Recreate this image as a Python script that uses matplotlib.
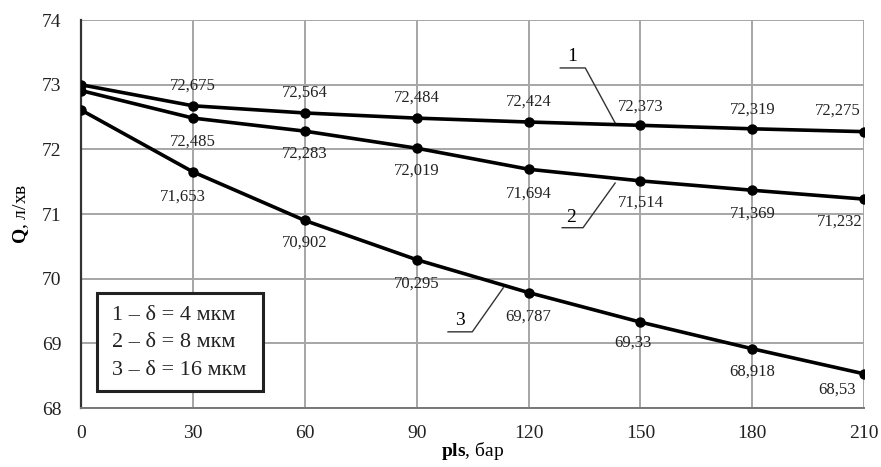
import matplotlib
matplotlib.use('Agg')
import matplotlib.pyplot as plt
from matplotlib.patches import Rectangle

plt.rcParams['font.family'] = ['Liberation Serif', 'DejaVu Serif']
plt.rcParams['mathtext.fontset'] = 'custom'
plt.rcParams['mathtext.rm'] = 'Liberation Serif'
plt.rcParams['mathtext.bf'] = 'Liberation Serif:bold'

# data
pressure = [0, 30, 60, 90, 120, 150, 180, 210]
q_4mkm = [73.0, 72.675, 72.564, 72.484, 72.424, 72.373, 72.319, 72.275]
q_8mkm = [72.91, 72.485, 72.283, 72.019, 71.694, 71.514, 71.369, 71.232]
q_16mkm = [72.61, 71.653, 70.902, 70.295, 69.787, 69.33, 68.918, 68.53]
legend_lines = ['1 – δ = 4 мкм', '2 – δ = 8 мкм', '3 – δ = 16 мкм']

# label offsets in pixels (dx, dy), one per point after x=0
off_1 = [(0, 20), (0, 20), (0, 20), (0, 20), (0, 19), (0, 19), (-27, 21)]
off_2 = [(0, -24), (0, -23), (0, -22), (0, -24), (0, -22), (0, -23), (-25, -23)]
off_3 = [(-10, -25), (0, -22), (0, -24), (0, -24), (-8, -21), (0, -23), (-27, -16)]

fig = plt.figure(figsize=(8.81, 4.67), dpi=100)
ax = fig.add_axes([0.092, 0.126, 0.889, 0.831])

for ys, offs in [(q_4mkm, off_1), (q_8mkm, off_2), (q_16mkm, off_3)]:
    ax.plot(pressure, ys, color='black', lw=2.6, marker='o', ms=6.5, zorder=3)
    for x, y, (dx, dy) in zip(pressure[1:], ys[1:], offs):
        lbl = ('%g' % y).replace('.', ',')
        ax.annotate(lbl, (x, y), xytext=(dx, dy), textcoords='offset pixels',
                    ha='center', va='center', fontsize=12, color='#222222', zorder=4)

# leader lines with curve numbers
ax.plot([128.5, 135.2, 143.2], [73.26, 73.26, 72.41], color='#333333', lw=1)
ax.text(131.7, 73.43, '1', fontsize=14, ha='center', va='center')
ax.plot([129.0, 134.6, 143.2], [70.79, 70.79, 71.48], color='#333333', lw=1)
ax.text(131.5, 70.95, '2', fontsize=14, ha='center', va='center')
ax.plot([98.4, 104.9, 113.2], [69.18, 69.18, 69.86], color='#333333', lw=1)
ax.text(101.6, 69.35, '3', fontsize=14, ha='center', va='center')

ax.set_xlim(0, 210)
ax.set_ylim(68, 74)
ax.set_xticks(pressure)
ax.set_yticks(range(68, 75))
ax.grid(True, color='#a6a6a6', lw=1.4)
ax.set_axisbelow(True)
ax.tick_params(length=0, labelsize=14, colors='#222222')
ax.tick_params(axis='y', pad=14)
ax.tick_params(axis='x', pad=12)
for s in ['top', 'right']:
    ax.spines[s].set_visible(False)
ax.spines['left'].set_color('#333333')
ax.spines['left'].set_linewidth(1.6)
ax.spines['bottom'].set_color('#777777')
ax.spines['bottom'].set_linewidth(1.4)

ax.set_xlabel(r'$\mathbf{pls}$, бар', fontsize=14, labelpad=-1)
ax.set_ylabel(r'$\mathbf{Q}$, л/хв', fontsize=14, labelpad=8)

# legend box
ax.add_patch(Rectangle((0.0204, 0.0438), 0.212, 0.2526, transform=ax.transAxes,
                       facecolor='white', edgecolor='#222222', lw=2.2, zorder=5))
for i, t in enumerate(legend_lines):
    ax.text(0.0396, 0.2397 - i * 0.0709, t, transform=ax.transAxes, fontsize=16,
            va='center', ha='left', color='#222222', zorder=6)

fig.savefig('out.png', dpi=100)
